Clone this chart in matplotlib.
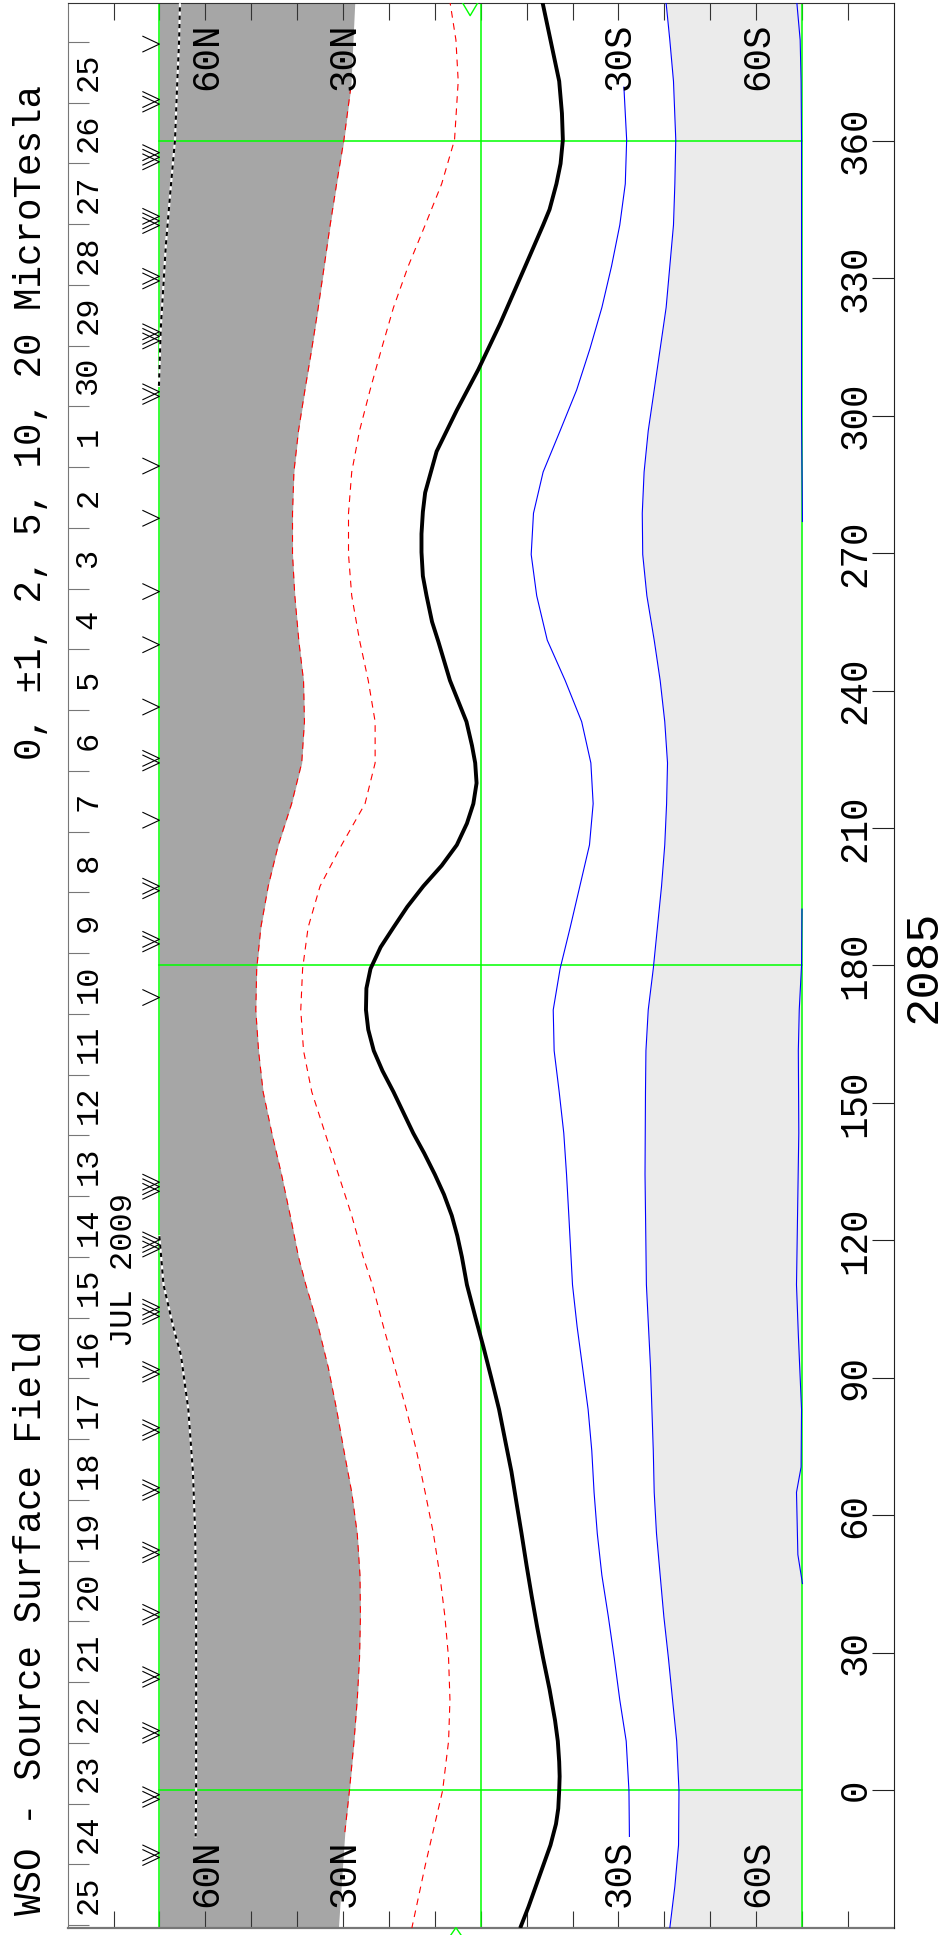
from matplotlib import pyplot as plt
import numpy as np

plt.rcParams['font.family'] = ['Liberation Mono', 'DejaVu Sans Mono']

# neutral line (Carrington longitude, latitude)
neutral_lon = [391, 382, 373, 366, 360.2, 355, 350.6, 345, 341.6, 332.6, 320, 310.1, 301.2,
               292.2, 283.2, 279, 274.2, 270.2, 265, 260.7, 255, 250.6, 242.2, 233.2, 228,
               224.2, 219.8, 215.3, 211, 206.3, 201.8, 197.3, 192.8, 188.3, 184, 179.3, 175,
               170.3, 166, 161.4, 157, 152.4, 148, 143.4, 139, 134.4, 130, 125.4, 121, 116.4,
               110.3, 103, 96.7, 90, 83.1, 76, 69.5, 62.7, 56.0, 49, 42.4, 35.6, 28.8, 22,
               15.2, 10.7, 6.2, 3, -0.1, -4, -7.4, -12, -16.5, -21, -25.5, -30.1]
neutral_lat = [-13.3, -15.2, -17.1, -17.7, -17.9, -17.4, -16.5, -15.0, -13.6, -9.7, -4.2, 0.5, 5.2,
               9.6, 12.1, 12.6, 12.9, 12.9, 12.6, 11.8, 10.6, 9.2, 6.7, 3.1, 1.9,
               1.2, 0.9, 1.6, 3.0, 5.2, 8.5, 12.5, 16.0, 19.0, 21.8, 24.0, 24.9,
               25.0, 24.5, 23.3, 21.4, 19.0, 16.9, 14.7, 12.3, 10.0, 8.0, 6.3, 5.1, 4.1,
               3.0, 1.1, -0.6, -2.3, -4.0, -5.4, -6.7, -7.8, -8.9, -10.0, -11.1, -12.3, -13.6, -15.0,
               -16.2, -16.8, -17.1, -17.2, -17.1, -16.9, -16.4, -15.2, -13.6, -12.0, -10.4, -8.6]

# first negative contour, edge of the dark shading
neg1_lon = [391, 371.7, 360.2, 350.6, 341.6, 332.6, 323.6, 314.6, 305.6, 296.7, 287.7, 278.7,
            269.7, 260.7, 250.6, 242.2, 233.2, 224.2, 215.3, 206.3, 197.3, 188.3, 179.3,
            170.3, 161.4, 152.4, 143.4, 134.4, 125.4, 116.4, 110.3, 101.2, 92.2, 83.1, 74.1,
            65.0, 56.0, 46.9, 37.9, 28.8, 19.7, 10.7, -0.1, -9.2, -30]
neg1_lat = [27.4, 28.3, 29.8, 31.4, 32.8, 34.1, 35.4, 36.8, 38.3, 39.7, 40.7, 41.0,
            41.0, 40.5, 39.6, 38.6, 38.4, 39.0, 41.2, 44.1, 46.3, 47.9, 48.8,
            49.0, 48.4, 47.4, 45.5, 43.4, 41.5, 39.7, 38.1, 35.4, 33.2, 31.4, 29.8,
            28.1, 26.9, 26.3, 26.2, 26.4, 26.9, 27.6, 28.6, 29.6, 31.0]

neg2_lon = [391, 382, 373, 360.2, 350.6, 341.6, 332.6, 323.6, 314.6, 305.6, 296.7, 287.7,
            278.7, 269.7, 260.7, 251, 242.2, 233.2, 224.2, 215.3, 206.3, 197.3, 188.3, 179.3,
            170.3, 161.4, 152.4, 143.4, 134.4, 125.4, 116.4, 110.3, 101.2, 92.2, 83.1, 74.1,
            65.0, 56.0, 46.9, 37.9, 28.8, 19.7, 10.7, -0.1, -7.4, -16.5, -30.1]
neg2_lat = [6.8, 5.4, 4.9, 5.7, 8.5, 12.1, 15.8, 19.0, 21.6, 24.1, 26.4, 28.1,
            28.8, 28.8, 28.1, 26.4, 24.5, 23.0, 23.0, 25.2, 30.3, 35.0, 37.6, 38.8,
            39.2, 38.6, 36.8, 33.9, 31.0, 28.1, 25.6, 23.6, 21.2, 18.7, 16.2, 14.0,
            12.1, 10.3, 8.9, 7.8, 7.0, 6.7, 7.0, 8.3, 10.0, 12.1, 15.0]

neg3_lon_a = [391, 382, 373, 360.2, 347.9, 337.1, 319.1, 306.5]
neg3_lat_a = [65.5, 65.7, 66.1, 66.6, 67.7, 68.6, 69.7, 70.1]
neg3_lon_b = [120.9, 110.3, 101.2, 94.9, 83.1, 69.5, 56.0, 37.9, 19.7, -0.1, -10.1]
neg3_lat_b = [70.0, 69.1, 67.0, 65.3, 63.7, 62.7, 62.2, 62.0, 62.0, 62.0, 62.1]

pos1_lon = [371.7, 360.2, 350.6, 341.6, 332.6, 323.6, 314.6, 305.6, 296.7, 287.7, 278.7,
            269.7, 260.7, 251, 242.2, 233.2, 224.2, 215.3, 206.3, 197.3, 188.3, 179.3,
            170.3, 161.4, 152.4, 143.4, 134.4, 125.4, 110.3, 101.2, 92.2, 83.1, 74.1, 65.0,
            56.0, 46.9, 37.9, 28.8, 19.7, 10.7, -0.1, -10.1]
pos1_lat = [-31.2, -31.8, -31.5, -30.3, -28.5, -26.4, -23.8, -20.9, -17.3, -13.6, -11.5,
            -11.0, -12.2, -14.5, -18.4, -22.0, -24.0, -24.5, -23.7, -21.6, -19.5, -17.3,
            -15.8, -16.0, -17.1, -18.1, -18.7, -19.2, -20.0, -21.0, -22.2, -23.4, -24.2, -24.7,
            -25.4, -26.4, -27.8, -29.1, -30.3, -31.7, -32.3, -32.4]

# second positive contour, edge of the light shading
pos2_lon = [391, 382, 373, 360.2, 350.6, 341.6, 332.6, 323.6, 314.6, 305.6, 296.7, 287.7,
            278.7, 269.7, 260.7, 251, 242.2, 233.2, 224.2, 215.3, 206.3, 197.3, 188.3, 179.3,
            170.3, 161.4, 152.4, 134.4, 110.3, 92.2, 74.1, 65.0, 56.0, 46.9, 37.9, 28.8,
            19.7, 10.7, -0.1, -12.0, -21.0, -30.1]
pos2_lat = [-40.3, -41.2, -42.0, -42.5, -42.3, -42.0, -41.2, -40.4, -39.1, -37.8, -36.5, -35.6,
            -35.2, -35.3, -36.2, -37.8, -39.1, -40.1, -40.7, -40.5, -40.1, -39.4, -38.5, -37.6,
            -36.5, -36.0, -35.9, -35.8, -36.1, -37.0, -37.6, -37.8, -38.3, -39.1, -39.9, -40.9,
            -41.8, -42.7, -43.2, -43.1, -42.3, -41.2]

pos3_lon_a = [391, 382, 373, 360, 330, 300, 276.9]
pos3_lat_a = [-68.8, -69.6, -69.8, -69.9, -69.9, -69.9, -70.1]
pos3_lon_b = [192.3, 180, 170.3, 161.4, 143.4, 110.3, 99.4, 83.1, 70.5, 65.0, 51.4, 45.1]
pos3_lat_b = [-70.0, -69.9, -69.4, -69.2, -69.3, -68.8, -69.2, -69.9, -69.8, -68.8, -69.1, -70.1]

# observation markers: longitude and number of overlapping chevrons
obs_lon = [381.1, 368.5, 356.4, 342.5, 329.9, 317.3, 304.7, 289.0, 277.6, 261.6, 250.0,
           236.4, 224.7, 211.7, 196.8, 185.2, 173.0, 131.7, 119.1, 104.4, 91.3, 78.6,
           65.5, 51.9, 38.3, 24.7, 12.5, -1.5, -14.2]
obs_count = [1, 2, 3, 3, 2, 3, 2, 1, 1, 1, 1,
             1, 2, 1, 2, 2, 1, 3, 3, 3, 2, 2,
             2, 2, 2, 2, 2, 2, 2]

# sub-earth latitude at start and end of the rotation
b0_lat = [2.3, 5.4]

lon_ticks = list(range(0, 361, 30))
lat_labels = [60, 30, -30, -60]
lat_names = ['60N', '30N', '30S', '60S']
date_labels = ['25', '26', '27', '28', '29', '30'] + [str(d) for d in range(1, 26)]
first_day_lon = 381.6
deg_per_day = 13.26

W, H = 946, 1935
fig = plt.figure(figsize=(W / 100, H / 100), dpi=100)
x0, x1, y0, y1 = 67.6, 893.8, 3.3, 1927.6
ax = fig.add_axes([x0 / W, 1 - y1 / H, (x1 - x0) / W, (y1 - y0) / H])
ax.set_xlim(90, -90)
ax.set_ylim(-30, 390)

# shading
ax.fill_betweenx(neg1_lon, 70, neg1_lat, color='#a6a6a6', lw=0, zorder=1)
ax.fill_betweenx(pos2_lon, pos2_lat, -70, color='#ebebeb', lw=0, zorder=1)

green = '#00ff00'
for la in (70, 0, -70):
    ax.axvline(la, color=green, lw=1.1, zorder=2)
for lo in (0, 180, 360):
    ax.plot([70, -70], [lo, lo], color=green, lw=1.1, zorder=2)

# contours
n1_lon = np.array(neg1_lon)
n1_lat = np.array(neg1_lat)
m = (n1_lon <= 372) & (n1_lon >= -9.5)
ax.plot(n1_lat[m], n1_lon[m], color='#ff0000', lw=0.8, ls=(0, (6, 5)), zorder=3)
ax.plot(neg2_lat, neg2_lon, color='#ff0000', lw=0.8, ls=(0, (6, 5)), zorder=3)
for la, lo in ((neg3_lat_a, neg3_lon_a), (neg3_lat_b, neg3_lon_b)):
    ax.plot(la, lo, color='white', lw=1.5, zorder=3)
    ax.plot(la, lo, color='black', lw=1.5, ls=(0, (2, 2)), zorder=3)
ax.plot(pos1_lat, pos1_lon, color='#0000ff', lw=0.8, zorder=3)
ax.plot(pos2_lat, pos2_lon, color='#0000ff', lw=0.8, zorder=3)
ax.plot(pos3_lat_a, pos3_lon_a, color='#0000ff', lw=0.8, zorder=3)
ax.plot(pos3_lat_b, pos3_lon_b, color='#0000ff', lw=0.8, zorder=3)
ax.plot(neutral_lat, neutral_lon, color='black', lw=2.8, zorder=4,
        solid_joinstyle='round', solid_capstyle='butt')

# observation chevrons
for lo, n in zip(obs_lon, obs_count):
    for i in range(n):
        c = lo + (i - (n - 1) / 2) * 1.0
        ax.plot([73.6, 70.0, 73.6], [c + 1.7, c, c - 1.7], color='black', lw=0.8, zorder=5)

# B0 markers
ax.plot([b0_lat[0] + 1.6, b0_lat[0], b0_lat[0] - 1.6], [390, 387.3, 390], color=green, lw=1, zorder=5)
ax.plot([b0_lat[1] + 1.1, b0_lat[1], b0_lat[1] - 1.1], [-31.6, -30, -31.6], color=green, lw=1,
        zorder=5, clip_on=False)

# ticks
ax.set_xticks(np.arange(-80, 81, 10))
ax.tick_params(axis='x', direction='in', top=True, bottom=True, labelbottom=False,
               length=12.5, width=0.8, color='#333333')
day_ticks = [first_day_lon - deg_per_day * k for k in range(len(date_labels) + 1)]
ax.set_yticks(day_ticks)
ax.tick_params(axis='y', direction='in', left=True, right=False, labelleft=False,
               length=15, width=0.8, color='#777777')
ax2 = ax.twinx()
ax2.set_ylim(-30, 390)
ax2.set_yticks(lon_ticks)
ax2.tick_params(axis='y', direction='in', length=16, width=0.8, labelright=False, color='#222222')
for a in (ax, ax2):
    for s in a.spines.values():
        s.set_visible(False)
ax.spines['top'].set_visible(True)
ax.spines['top'].set_color('#333333')
ax.spines['bottom'].set_visible(True)
ax.spines['bottom'].set_color('#777777')
ax.spines['bottom'].set_linewidth(1.6)
ax.spines['left'].set_visible(True)
ax.spines['left'].set_color('#777777')
ax2.spines['right'].set_visible(True)
ax2.spines['right'].set_color('#222222')

txt = dict(rotation=90, rotation_mode='anchor', va='baseline')
for i, d in enumerate(date_labels):
    mid = (day_ticks[i] + day_ticks[i + 1]) / 2
    ax.text(83.7, mid, d, ha='center', fontsize=23, zorder=6, **txt)
for lo in lon_ticks:
    ax.text(-83.8, lo, str(lo), ha='center', fontsize=27, zorder=6, **txt)
for la, nm in zip(lat_labels, lat_names):
    ax.text(la - 2.55, 385.8, nm, ha='right', fontsize=27, zorder=6, **txt)
    ax.text(la - 2.55, -25.4, nm, ha='left', fontsize=27, zorder=6, **txt)
ax.text(75.9, 96.8, 'JUL 2009', ha='left', fontsize=23, zorder=6, **txt)

fig.text(41 / W, 1 - 1915 / H, 'WSO - Source Surface Field', ha='left', fontsize=27, **txt)
fig.text(41 / W, 1 - 85 / H, '0, \u00b11, 2, 5, 10, 20 MicroTesla', ha='right', fontsize=27, **txt)
fig.text(936 / W, 1 - 966 / H, '2085', ha='center', fontsize=34, **txt)

fig.savefig('out.png', dpi=100)
